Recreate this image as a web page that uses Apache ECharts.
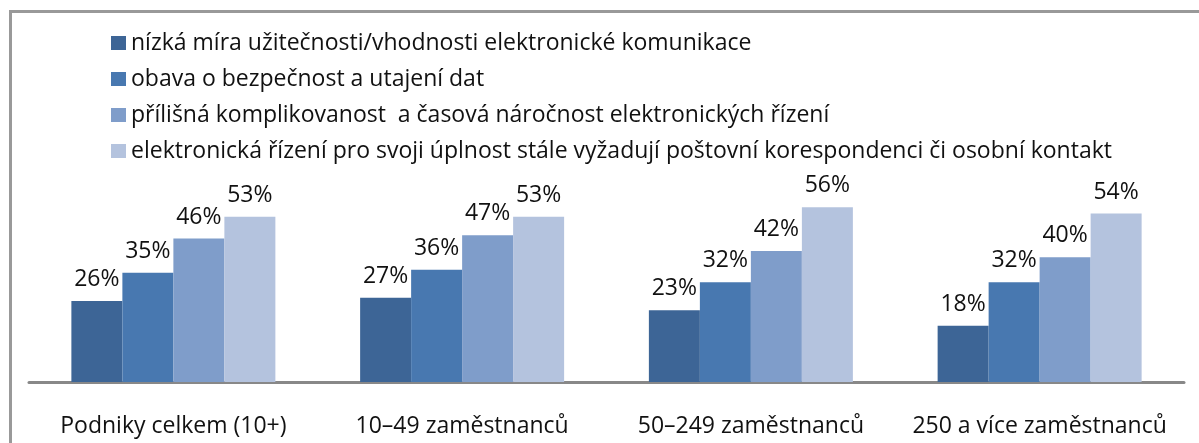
<!DOCTYPE html>
<html>
<head>
<meta charset="utf-8">
<script src="https://cdn.jsdelivr.net/npm/echarts@6/dist/echarts.min.js"></script>
<style>
  html, body { margin: 0; padding: 0; background: #fff; }
  #frame { position: absolute; left: 9px; top: 10px; width: 1250px; height: 500px;
    border-left: 3px solid #999; border-top: 3px solid #999; }
  #chart { position: absolute; left: 0; top: 0; width: 1199px; height: 443px; }
</style>
</head>
<body>
<div id="frame"></div>
<div id="chart"></div>
<script>
const categories = ['Podniky celkem (10+)', '10–49 zaměstnanců', '50–249 zaměstnanců', '250 a více zaměstnanců']
const seriesNames = [
  'nízká míra užitečnosti/vhodnosti elektronické komunikace',
  'obava o bezpečnost a utajení dat',
  'přílišná komplikovanost  a časová náročnost elektronických řízení',
  'elektronická řízení pro svoji úplnost stále vyžadují poštovní korespondenci či osobní kontakt',
]
const lowUsefulness = [26, 27, 23, 18]
const securityConcern = [35, 36, 32, 32]
const complexity = [46, 47, 42, 40]
const stillNeedsPost = [53, 53, 56, 54]
const colors = ['#3D6596', '#4878B0', '#7F9DCA', '#B4C3DE']

const font = 'Open Sans'
const chart = echarts.init(document.getElementById('chart'), undefined, { renderer: 'canvas' })

const values = [lowUsefulness, securityConcern, complexity, stillNeedsPost]

chart.setOption({
  animation: false,
  textStyle: { fontFamily: font },
  color: colors,
  legend: {
    orient: 'vertical',
    left: 106,
    top: 26,
    icon: 'rect',
    itemWidth: 15,
    itemHeight: 14,
    itemGap: 12,
    textStyle: { fontFamily: font, fontSize: 23, color: '#111', lineHeight: 24 },
    data: seriesNames,
  },
  grid: { left: 29, right: 15, top: 70, bottom: 61 },
  xAxis: {
    type: 'category',
    data: categories,
    axisTick: { show: false },
    axisLine: { lineStyle: { color: '#888', width: 3 } },
    axisLabel: { interval: 0, fontFamily: font, fontSize: 23, color: '#111', margin: 33 },
  },
  yAxis: {
    type: 'value',
    min: 0,
    max: 100,
    show: false,
  },
  series: values.map((v, i) => ({
    name: seriesNames[i],
    type: 'bar',
    data: v,
    barWidth: 51,
    barGap: '0%',
    itemStyle: { color: colors[i] },
    label: {
      show: true,
      position: 'top',
      distance: 10,
      formatter: '{c}%',
      fontFamily: font,
      fontSize: 23,
      color: '#111',
    },
  })),
})
</script>
</body>
</html>
